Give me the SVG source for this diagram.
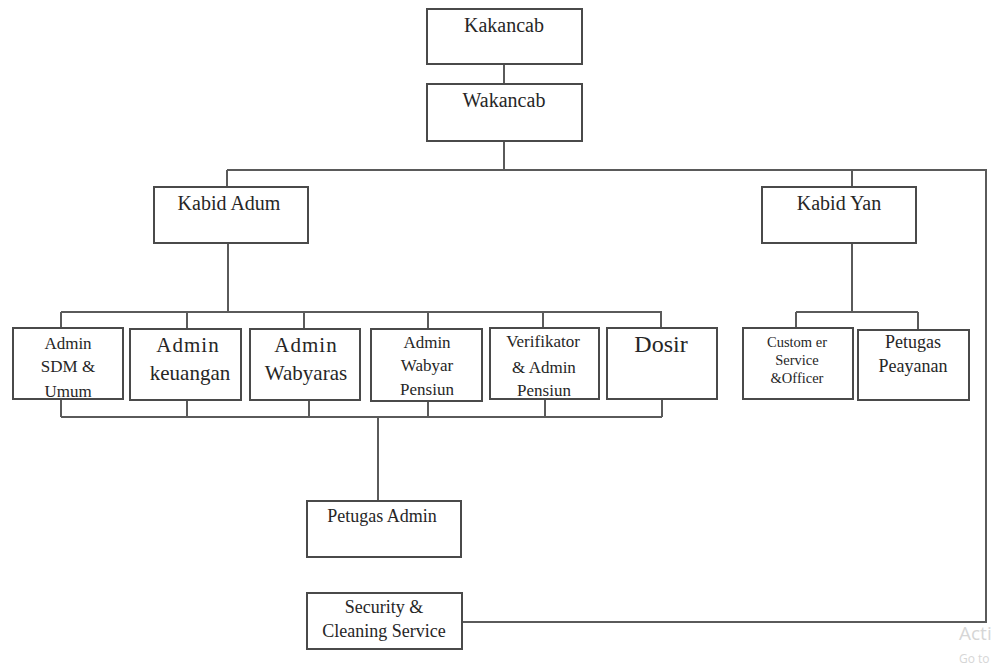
<svg xmlns="http://www.w3.org/2000/svg" width="1006" height="666" viewBox="0 0 1006 666">
<style>
.box{fill:#fff;stroke:#4a4a4a;stroke-width:2}
.ln{fill:none;stroke:#5a5a5a;stroke-width:2}
text{font-family:"Liberation Serif","DejaVu Serif",serif;fill:#262626;text-anchor:middle}
.t20{font-size:20px}
.t21{font-size:21px}
.t17{font-size:17px}
.t15{font-size:14.5px}
.t18{font-size:18px}
.wm{font-family:"Open Sans","Noto Sans",sans-serif;fill:#d6d6d6;text-anchor:start}
</style>
<defs>
<clipPath id="cSdm"><rect x="13" y="328" width="110" height="70"/></clipPath>
<clipPath id="cVer"><rect x="490" y="328" width="109" height="70"/></clipPath>
</defs>
<rect width="1006" height="666" fill="#fff"/>
<g id="connectors">
<path class="ln" d="M504 64V84M504 141V170M227 170H986V622H462M227 170V187M852 170V187"/>
<path class="ln" d="M228 243V312M61 312H662M61 312V328M187 312V329M304 312V329M428 312V329M543 312V328M661 312V328"/>
<path class="ln" d="M61 399V417M187 400V417M309 400V417M428 401V417M545 399V417M662 399V417M61 417H662M378 417V501"/>
<path class="ln" d="M852 243V312M796 312H918M796 312V328M918 312V330"/>
</g>
<g id="kakancab"><rect class="box" x="427" y="9" width="155" height="55"/><text class="t20" x="504" y="32">Kakancab</text></g>
<g id="wakancab"><rect class="box" x="427" y="84" width="155" height="57"/><text class="t20" x="504" y="107">Wakancab</text></g>
<g id="kabid-adum"><rect class="box" x="154" y="187" width="154" height="56"/><text class="t20" x="229" y="210">Kabid Adum</text></g>
<g id="kabid-yan"><rect class="box" x="762" y="187" width="154" height="56"/><text class="t20" x="839" y="210">Kabid Yan</text></g>
<g id="admin-sdm"><rect class="box" x="13" y="328" width="110" height="71"/><g clip-path="url(#cSdm)"><text class="t17" x="68" y="349">Admin</text><text class="t17" x="68" y="372">SDM &amp;</text><text class="t17" x="68" y="397">Umum</text></g></g>
<g id="admin-keuangan"><rect class="box" x="130" y="329" width="111" height="71"/><text class="t21" x="188" y="352" letter-spacing="1">Admin</text><text class="t21" x="190" y="380">keuangan</text></g>
<g id="admin-wabyaras"><rect class="box" x="250" y="329" width="110" height="71"/><text class="t21" x="306" y="352" letter-spacing="1">Admin</text><text class="t21" x="306" y="380">Wabyaras</text></g>
<g id="admin-wabyar-pensiun"><rect class="box" x="371" y="329" width="111" height="72"/><text class="t17" x="427" y="348">Admin</text><text class="t17" x="427" y="371">Wabyar</text><text class="t17" x="427" y="395">Pensiun</text></g>
<g id="verifikator"><rect class="box" x="490" y="328" width="109" height="71"/><g clip-path="url(#cVer)"><text class="t17" x="543" y="347">Verifikator</text><text class="t17" x="544" y="373">&amp; Admin</text><text class="t17" x="544" y="396">Pensiun</text></g></g>
<g id="dosir"><rect class="box" x="607" y="328" width="110" height="71"/><text x="661" y="352" style="font-size:24px">Dosir</text></g>
<g id="customer-service"><rect class="box" x="743" y="328" width="110" height="71"/><text class="t15" x="797" y="347">Custom er</text><text class="t15" x="797" y="365">Service</text><text class="t15" x="797" y="383">&amp;Officer</text></g>
<g id="petugas-peayanan"><rect class="box" x="858" y="330" width="111" height="70"/><text class="t18" x="913" y="348">Petugas</text><text class="t18" x="913" y="372">Peayanan</text></g>
<g id="petugas-admin"><rect class="box" x="307" y="501" width="154" height="56"/><text class="t18" x="382" y="522">Petugas Admin</text></g>
<g id="security"><rect class="box" x="307" y="593" width="155" height="56"/><text class="t18" x="384" y="613">Security &amp;</text><text class="t18" x="384" y="637">Cleaning Service</text></g>
<g id="watermark"><text class="wm" x="959" y="640" style="font-size:19px">Acti</text><text class="wm" x="959" y="663" style="font-size:12px">Go to</text></g>
</svg>
